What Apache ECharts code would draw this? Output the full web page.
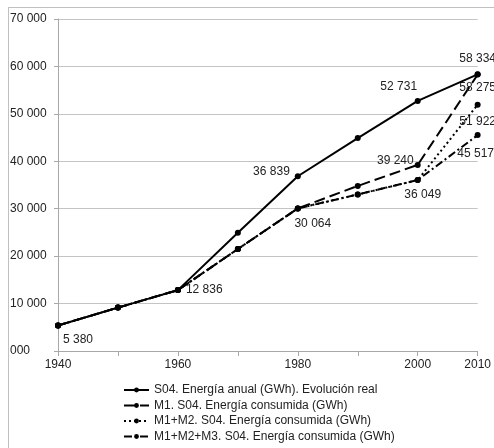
<!DOCTYPE html>
<html>
<head>
<meta charset="utf-8">
<script src="https://cdn.jsdelivr.net/npm/echarts@6/dist/echarts.min.js"></script>
<style>
html, body { margin: 0; padding: 0; background: #fff; }
#chart { width: 494px; height: 448px; }
</style>
</head>
<body>
<div id="chart"></div>
<script>
// data
var years = [1940, 1950, 1960, 1970, 1980, 1990, 2000, 2010];
var yearLabels = [1940, 1960, 1980, 2000, 2010];
var realEnergy = [5380, 9150, 12836, 24950, 36839, 44900, 52731, 58334];
var m1 = [5380, 9150, 12836, 21500, 30064, 34800, 39240, 58275];
var m1m2 = [5380, 9150, 12836, 21500, 30064, 33000, 36049, 51922];
var m1m2m3 = [5380, 9150, 12836, 21500, 30064, 33000, 36049, 45517];
var seriesNames = [
	'S04. Energía anual (GWh). Evolución real',
	'M1. S04. Energía consumida (GWh)',
	'M1+M2. S04. Energía consumida (GWh)',
	'M1+M2+M3. S04. Energía consumida (GWh)'
];

// which points carry a value label, and where
var labelSpots = [
	{ 0: ['bottom', [20, 0]], 2: ['right', [0, 0]], 4: ['left', [0, -5]], 6: ['top', [-19, 0]], 7: ['top', [0, -2]] },
	{ 4: ['bottom', [15, 1]], 6: ['left', [4, -4]], 7: ['bottom', [0, -1]] },
	{ 6: ['bottom', [5, 1]], 7: ['bottom', [0, 3]] },
	{ 7: ['bottom', [-2, 5]] }
];

function fmtNum(v) {
	if (v === 0) return '000';
	var s = String(v);
	return s.replace(/\B(?=(\d{3})+(?!\d))/g, ' ');
}

function buildData(vals, spots) {
	var out = [];
	for (var i = 0; i < years.length; i++) {
		var item = { value: [years[i], vals[i]] };
		if (spots[i]) {
			item.label = {
				show: true,
				position: spots[i][0],
				offset: spots[i][1],
				formatter: function (p) { return fmtNum(p.value[1]); }
			};
		}
		out.push(item);
	}
	return out;
}

var dashTypes = ['solid', [11, 5], [2, 3], [8, 3, 2, 3]];
var allVals = [realEnergy, m1, m1m2, m1m2m3];

var seriesList = [];
for (var k = 0; k < allVals.length; k++) {
	seriesList.push({
		name: seriesNames[k],
		type: 'line',
		data: buildData(allVals[k], labelSpots[k]),
		symbol: 'circle',
		symbolSize: 6,
		z: 10 - k,
		itemStyle: { color: '#000' },
		lineStyle: { color: '#000', width: 2, type: dashTypes[k] },
		label: { color: '#222', fontSize: 12, fontFamily: 'Liberation Sans, Arial, sans-serif', distance: 5 }
	});
}

var myChart = echarts.init(document.getElementById('chart'));
myChart.setOption({
	animation: false,
	backgroundColor: '#fff',
	textStyle: { fontFamily: 'Liberation Sans, Arial, sans-serif' },
	graphic: [
		{ type: 'line', shape: { x1: 8, y1: 7.5, x2: 494, y2: 7.5 }, style: { stroke: '#c0c0c0', lineWidth: 1 } },
		{ type: 'line', shape: { x1: 8.5, y1: 7, x2: 8.5, y2: 448 }, style: { stroke: '#c0c0c0', lineWidth: 1 } }
	],
	grid: { left: 58, right: 16, top: 19, bottom: 97 },
	xAxis: {
		type: 'value',
		min: 1940,
		max: 2010,
		interval: 10,
		axisLine: { show: true, lineStyle: { color: '#a8a8a8', width: 1 } },
		axisTick: { show: true, length: 5, lineStyle: { color: '#a8a8a8' } },
		splitLine: { show: false },
		axisLabel: {
			color: '#222',
			fontSize: 12,
			margin: 8,
			formatter: function (v) { return yearLabels.indexOf(v) >= 0 ? String(v) : ''; }
		}
	},
	yAxis: {
		type: 'value',
		min: 0,
		max: 70000,
		interval: 10000,
		axisLine: { show: true, lineStyle: { color: '#a8a8a8', width: 1 } },
		axisTick: { show: true, length: 4, lineStyle: { color: '#a8a8a8' } },
		splitLine: { show: true, lineStyle: { color: '#c4c4c4', width: 1 } },
		axisLabel: {
			color: '#222',
			fontSize: 12,
			align: 'left',
			margin: 48,
			formatter: fmtNum
		}
	},
	legend: {
		orient: 'vertical',
		left: 123,
		top: 383,
		padding: 0,
		itemWidth: 25,
		itemHeight: 6,
		itemGap: 1.5,
		textStyle: { color: '#222', fontSize: 12, lineHeight: 14 },
		data: seriesNames
	},
	series: seriesList
});
</script>
</body>
</html>
